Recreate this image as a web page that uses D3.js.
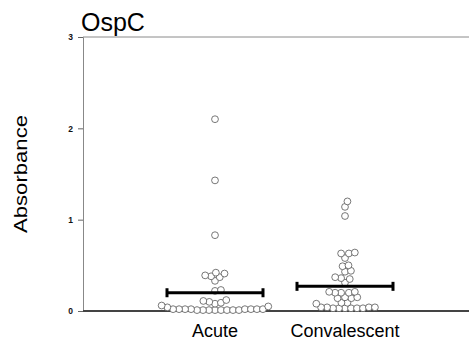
<!DOCTYPE html>
<html lang="en">
  <head>
    <meta charset="utf-8">
    <title>OspC</title>
    <style>
      body { margin: 0; background: #fff; }
      svg { display: block; font-family: "Liberation Sans", Arial, sans-serif; }
    </style>
  </head>
  <body>
    <script src="https://d3js.org/d3.v7.min.js"></script>
    <script type="text/javascript">

    // categories and values
    const categories = ["Acute", "Convalescent"]
    const acute = [2.1, 1.43, 0.83, 0.42, 0.41, 0.39, 0.38, 0.37, 0.33, 0.23, 0.22,
                   0.12, 0.11, 0.1, 0.09, 0.08, 0.06, 0.05, 0.04,
                   0.02, 0.02, 0.02, 0.02, 0.02, 0.02, 0.02, 0.02,
                   0.01, 0.01, 0.01, 0.01, 0.01, 0.01, 0.01, 0.01]
    const convalescent = [1.2, 1.14, 1.04, 0.64, 0.63, 0.63, 0.58, 0.5, 0.49, 0.44, 0.43,
                          0.37, 0.36, 0.35, 0.31, 0.21, 0.21, 0.2, 0.2, 0.2,
                          0.15, 0.15, 0.14, 0.14, 0.09, 0.09, 0.08,
                          0.04, 0.04, 0.04, 0.04, 0.03, 0.03, 0.03, 0.03, 0.03, 0.03]
    const means = [0.2, 0.27]
    const yTicks = [0, 1, 2, 3]

    const w = 469
    const h = 347
    const padLeft = 83
    const padTop = 37
    const padBottom = 311
    const r = 3.4
    const gap = 3.0  // half the spacing used when dodging, circles overlap a little

    const svg = d3.select("body").append("svg")
      .attr("width", w)
      .attr("height", h)

    const x = d3.scalePoint().domain(categories).range([215, 345])
    const y = d3.scaleLinear().domain([0, 3]).range([padBottom, padTop])

    // simple dodge so circles with close values sit side by side
    const dodge = (values, cx) => {
      const placed = []
      values.slice().sort((a, b) => a - b).forEach(v => {
        const cy = y(v)
        const near = placed.filter(p => Math.abs(p.cy - cy) < 2 * gap)
        let cands = [0]
        near.forEach(p => {
          const dx = Math.sqrt(4 * gap * gap - (p.cy - cy) ** 2)
          cands.push(p.dx + dx, p.dx - dx)
        })
        cands.sort((a, b) => Math.abs(a) - Math.abs(b))
        const ok = cands.find(c => near.every(p => (p.dx - c) ** 2 + (p.cy - cy) ** 2 >= 4 * gap * gap - 0.01))
        placed.push({ v: v, cy: cy, dx: ok })
      })
      return placed.map(p => ({ x: cx + p.dx, y: p.cy }))
    }

    // frame
    svg.append("line")
      .attr("x1", padLeft).attr("x2", w)
      .attr("y1", padTop).attr("y2", padTop)
      .attr("stroke", "#8a8a8a")

    const yAxis = d3.axisLeft(y).tickValues(yTicks).tickFormat(d3.format("d")).tickSize(5).tickPadding(5)
    const ga = svg.append("g")
      .attr("transform", `translate(${padLeft}, 0)`)
      .call(yAxis)
    ga.select(".domain").attr("stroke", "#888")
    ga.selectAll(".tick line").attr("stroke", "#666")
    ga.selectAll(".tick text")
      .attr("font-size", 8.5)
      .attr("font-weight", "bold")
      .attr("font-family", "Liberation Sans, Arial, sans-serif")
      .attr("fill", "#111")

    // baseline at zero
    svg.append("line")
      .attr("x1", padLeft).attr("x2", w)
      .attr("y1", y(0)).attr("y2", y(0))
      .attr("stroke", "#444")
      .attr("stroke-width", 2)

    // points
    const groups = [acute, convalescent]
    groups.forEach((vals, i) => {
      svg.append("g").selectAll("circle")
        .data(dodge(vals, x(categories[i])))
        .enter().append("circle")
        .attr("cx", d => d.x)
        .attr("cy", d => d.y)
        .attr("r", r)
        .attr("fill", "#fff")
        .attr("stroke", "#555")
        .attr("stroke-width", 0.8)
    })

    // mean bars
    const half = 48
    categories.forEach((c, i) => {
      const g = svg.append("g").attr("stroke", "#000").attr("stroke-width", 3)
      g.append("line")
        .attr("x1", x(c) - half).attr("x2", x(c) + half)
        .attr("y1", y(means[i])).attr("y2", y(means[i]))
      ;[-half, half].forEach(o => {
        g.append("line")
          .attr("x1", x(c) + o).attr("x2", x(c) + o)
          .attr("y1", y(means[i]) - 4.5).attr("y2", y(means[i]) + 4.5)
      })
    })

    // category labels
    svg.selectAll(".cat")
      .data(categories)
      .enter().append("text")
      .attr("class", "cat")
      .attr("x", d => x(d))
      .attr("y", 337)
      .attr("text-anchor", "middle")
      .attr("font-size", 18)
      .text(d => d)

    svg.append("text")
      .attr("x", 81)
      .attr("y", 31)
      .attr("font-size", 25)
      .text("OspC")

    svg.append("text")
      .attr("transform", "translate(27, 174) rotate(-90)")
      .attr("text-anchor", "middle")
      .attr("font-size", 18)
      .attr("textLength", 118)
      .attr("lengthAdjust", "spacingAndGlyphs")
      .text("Absorbance")

    </script>
  </body>
</html>
